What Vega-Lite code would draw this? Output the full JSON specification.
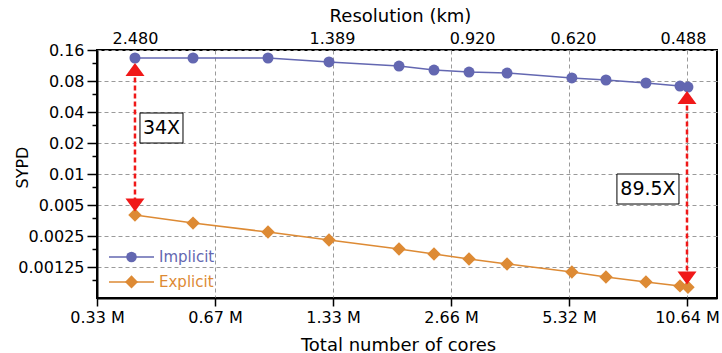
{
  "$schema": "https://vega.github.io/schema/vega-lite/v6.json",
  "width": 620,
  "height": 248,
  "autosize": "none",
  "padding": {"left": 97, "top": 50, "right": 5, "bottom": 55},
  "background": "white",
  "config": {
    "font": "DejaVu Sans",
    "view": {"stroke": "black", "strokeWidth": 2},
    "axis": {
      "labelFont": "DejaVu Sans",
      "titleFont": "DejaVu Sans",
      "labelFontSize": 16,
      "titleFontSize": 18,
      "labelColor": "black",
      "titleColor": "black",
      "titleFontWeight": "normal",
      "domainColor": "black",
      "domainWidth": 2,
      "tickColor": "black",
      "tickWidth": 1.5,
      "gridColor": "#9a9a9a",
      "gridDash": [4, 3],
      "gridWidth": 1
    }
  },
  "layer": [
    {
      "layer": [
        {
          "data": {"values": [
            {"series": "Implicit", "cores": 0.4156, "sypd": 0.1338},
            {"series": "Implicit", "cores": 0.5845, "sypd": 0.1338},
            {"series": "Implicit", "cores": 0.908, "sypd": 0.1338},
            {"series": "Implicit", "cores": 1.299, "sypd": 0.1224},
            {"series": "Implicit", "cores": 1.96, "sypd": 0.1118},
            {"series": "Implicit", "cores": 2.407, "sypd": 0.1022},
            {"series": "Implicit", "cores": 2.957, "sypd": 0.0978},
            {"series": "Implicit", "cores": 3.697, "sypd": 0.0956},
            {"series": "Implicit", "cores": 5.41, "sypd": 0.0856},
            {"series": "Implicit", "cores": 6.61, "sypd": 0.0818},
            {"series": "Implicit", "cores": 8.36, "sypd": 0.0765},
            {"series": "Implicit", "cores": 10.21, "sypd": 0.0715},
            {"series": "Implicit", "cores": 10.7, "sypd": 0.0699},
            {"series": "Explicit", "cores": 0.4156, "sypd": 0.003995},
            {"series": "Explicit", "cores": 0.5845, "sypd": 0.003336},
            {"series": "Explicit", "cores": 0.908, "sypd": 0.00273},
            {"series": "Explicit", "cores": 1.299, "sypd": 0.002283},
            {"series": "Explicit", "cores": 1.96, "sypd": 0.001868},
            {"series": "Explicit", "cores": 2.407, "sypd": 0.001672},
            {"series": "Explicit", "cores": 2.957, "sypd": 0.001496},
            {"series": "Explicit", "cores": 3.697, "sypd": 0.001339},
            {"series": "Explicit", "cores": 5.41, "sypd": 0.001119},
            {"series": "Explicit", "cores": 6.61, "sypd": 0.001001},
            {"series": "Explicit", "cores": 8.36, "sypd": 0.000896},
            {"series": "Explicit", "cores": 10.21, "sypd": 0.000819},
            {"series": "Explicit", "cores": 10.7, "sypd": 0.000795}
          ]},
          "layer": [
            {
              "mark": {"type": "line", "strokeWidth": 1.5},
              "encoding": {
                "x": {
                  "field": "cores", "type": "quantitative", "title": "Total number of cores",
                  "scale": {"type": "log", "base": 2, "domain": [0.3325, 12.69], "nice": false},
                  "axis": {
                    "values": [0.3325, 0.665, 1.33, 2.66, 5.32, 10.64],
                    "labelExpr": "format(datum.value, '.2f') + ' M'",
                    "tickSize": 8,
                    "labelPadding": 3,
                    "titlePadding": 11,
                    "titleX": 301,
                    "labelFlush": false
                  }
                },
                "y": {
                  "field": "sypd", "type": "quantitative", "title": "SYPD",
                  "scale": {"type": "log", "base": 2, "domain": [0.000625, 0.16], "nice": false},
                  "axis": {
                    "titleX": -75,
                    "titleY": 117,
                    "titleBaseline": "middle",
                    "titleFontSize": 16,
                    "values": [0.16, 0.12, 0.08, 0.06, 0.04, 0.03, 0.02, 0.015, 0.01, 0.0075, 0.005, 0.00375, 0.0025, 0.001875, 0.00125, 0.0009375],
                    "labelExpr": "indexof([0.12, 0.06, 0.03, 0.015, 0.0075, 0.00375, 0.001875, 0.0009375], datum.value) >= 0 ? '' : format(datum.value, '~g')",
                    "tickSize": {"condition": {"test": "indexof([0.12, 0.06, 0.03, 0.015, 0.0075, 0.00375, 0.001875, 0.0009375], datum.value) >= 0", "value": 5}, "value": 10},
                    "gridOpacity": {"condition": {"test": "indexof([0.12, 0.06, 0.03, 0.015, 0.0075, 0.00375, 0.001875, 0.0009375], datum.value) >= 0", "value": 0}, "value": 1},
                    "labelPadding": 3,
                    "labelFlush": false
                  }
                },
                "color": {
                  "field": "series", "type": "nominal",
                  "scale": {"domain": ["Implicit", "Explicit"], "range": ["#6367b1", "#dd8a34"]},
                  "legend": null
                }
              }
            },
            {
              "transform": [{"filter": "datum.series == 'Implicit'"}],
              "mark": {"type": "point", "filled": true, "opacity": 1, "shape": "circle", "size": 121, "color": "#6367b1"},
              "encoding": {
                "x": {"field": "cores", "type": "quantitative", "title": "Total number of cores"},
                "y": {"field": "sypd", "type": "quantitative", "title": "SYPD"}
              }
            },
            {
              "transform": [{"filter": "datum.series == 'Explicit'"}],
              "mark": {"type": "point", "filled": true, "opacity": 1, "shape": "diamond", "size": 180, "color": "#dd8a34"},
              "encoding": {
                "x": {"field": "cores", "type": "quantitative", "title": "Total number of cores"},
                "y": {"field": "sypd", "type": "quantitative", "title": "SYPD"}
              }
            }
          ]
        },
        {
          "data": {"values": [
            {"series": "Implicit", "lx1": 0.3568, "lx2": 0.4648, "lxm": 0.4072, "lxt": 0.4786, "ly": 0.001565},
            {"series": "Explicit", "lx1": 0.3568, "lx2": 0.4648, "lxm": 0.4072, "lxt": 0.4786, "ly": 0.000896}
          ]},
          "layer": [
            {
              "mark": {"type": "rule", "strokeWidth": 1.5},
              "encoding": {
                "x": {"field": "lx1", "type": "quantitative", "title": "Total number of cores"},
                "x2": {"field": "lx2"},
                "y": {"field": "ly", "type": "quantitative", "title": "SYPD"},
                "color": {"field": "series", "type": "nominal", "legend": null}
              }
            },
            {
              "transform": [{"filter": "datum.series == 'Implicit'"}],
              "mark": {"type": "point", "filled": true, "opacity": 1, "shape": "circle", "size": 110, "color": "#6367b1"},
              "encoding": {
                "x": {"field": "lxm", "type": "quantitative", "title": "Total number of cores"},
                "y": {"field": "ly", "type": "quantitative", "title": "SYPD"}
              }
            },
            {
              "transform": [{"filter": "datum.series == 'Explicit'"}],
              "mark": {"type": "point", "filled": true, "opacity": 1, "shape": "diamond", "size": 170, "color": "#dd8a34"},
              "encoding": {
                "x": {"field": "lxm", "type": "quantitative", "title": "Total number of cores"},
                "y": {"field": "ly", "type": "quantitative", "title": "SYPD"}
              }
            },
            {
              "mark": {"type": "text", "font": "DejaVu Sans", "fontSize": 15, "align": "left", "baseline": "middle"},
              "encoding": {
                "x": {"field": "lxt", "type": "quantitative", "title": "Total number of cores"},
                "y": {"field": "ly", "type": "quantitative", "title": "SYPD"},
                "text": {"field": "series"},
                "color": {"field": "series", "type": "nominal", "legend": null}
              }
            }
          ]
        },
        {
          "data": {"values": [
            {"cores": 0.4156, "top": 0.1034, "bottom": 0.005},
            {"cores": 10.64, "top": 0.0554, "bottom": 0.000979}
          ]},
          "mark": {"type": "rule", "color": "#f01818", "strokeWidth": 2.5, "strokeDash": [5, 3]},
          "encoding": {
            "x": {"field": "cores", "type": "quantitative", "title": "Total number of cores"},
            "y": {"field": "top", "type": "quantitative", "title": "SYPD"},
            "y2": {"field": "bottom"}
          }
        },
        {
          "data": {"values": [
            {"cores": 0.4156, "sypd": 0.1034},
            {"cores": 10.64, "sypd": 0.0554}
          ]},
          "mark": {"type": "point", "filled": true, "color": "#f01818", "opacity": 1, "size": 361, "shape": "M0,-0.68L1,0.68L-1,0.68Z"},
          "encoding": {
            "x": {"field": "cores", "type": "quantitative", "title": "Total number of cores"},
            "y": {"field": "sypd", "type": "quantitative", "title": "SYPD"}
          }
        },
        {
          "data": {"values": [
            {"cores": 0.4156, "sypd": 0.005},
            {"cores": 10.64, "sypd": 0.000979}
          ]},
          "mark": {"type": "point", "filled": true, "color": "#f01818", "opacity": 1, "size": 361, "shape": "M0,0.68L1,-0.68L-1,-0.68Z"},
          "encoding": {
            "x": {"field": "cores", "type": "quantitative", "title": "Total number of cores"},
            "y": {"field": "sypd", "type": "quantitative", "title": "SYPD"}
          }
        },
        {
          "data": {"values": [
            {"label": "34X", "x1": 0.428, "x2": 0.551, "y1": 0.0391, "y2": 0.02, "xc": 0.4857, "yc": 0.0279},
            {"label": "89.5X", "x1": 7.05, "x2": 10.15, "y1": 0.01, "y2": 0.00511, "xc": 8.46, "yc": 0.00715}
          ]},
          "layer": [
            {
              "mark": {"type": "rect", "fill": "white", "stroke": "black", "strokeWidth": 1},
              "encoding": {
                "x": {"field": "x1", "type": "quantitative", "title": "Total number of cores"},
                "x2": {"field": "x2"},
                "y": {"field": "y1", "type": "quantitative", "title": "SYPD"},
                "y2": {"field": "y2"}
              }
            },
            {
              "mark": {"type": "text", "font": "DejaVu Sans", "fontSize": 19, "color": "black", "align": "center", "baseline": "middle"},
              "encoding": {
                "x": {"field": "xc", "type": "quantitative", "title": "Total number of cores"},
                "y": {"field": "yc", "type": "quantitative", "title": "SYPD"},
                "text": {"field": "label"}
              }
            }
          ]
        }
      ]
    },
    {
      "data": {"values": [
        {"cores": 0.4156, "res": "2.480"},
        {"cores": 1.322, "res": "1.389"},
        {"cores": 3.01, "res": "0.920"},
        {"cores": 5.446, "res": "0.620"},
        {"cores": 10.39, "res": "0.488"}
      ]},
      "mark": {"type": "point", "opacity": 0},
      "encoding": {
        "x": {
          "field": "cores", "type": "quantitative", "title": "Resolution (km)",
          "scale": {"type": "log", "base": 2, "domain": [0.3325, 12.69], "nice": false},
          "axis": {
            "orient": "top",
            "values": [0.4156, 1.322, 3.01, 5.446, 10.39],
            "labelExpr": "datum.value < 0.6 ? '2.480' : datum.value < 2 ? '1.389' : datum.value < 4 ? '0.920' : datum.value < 8 ? '0.620' : '0.488'",
            "domain": false,
            "ticks": false,
            "grid": false,
            "tickSize": 0,
            "labelPadding": 4,
            "titlePadding": 5,
            "titleX": 303,
            "labelFlush": false
          }
        }
      }
    }
  ],
  "resolve": {"scale": {"x": "independent"}}
}
